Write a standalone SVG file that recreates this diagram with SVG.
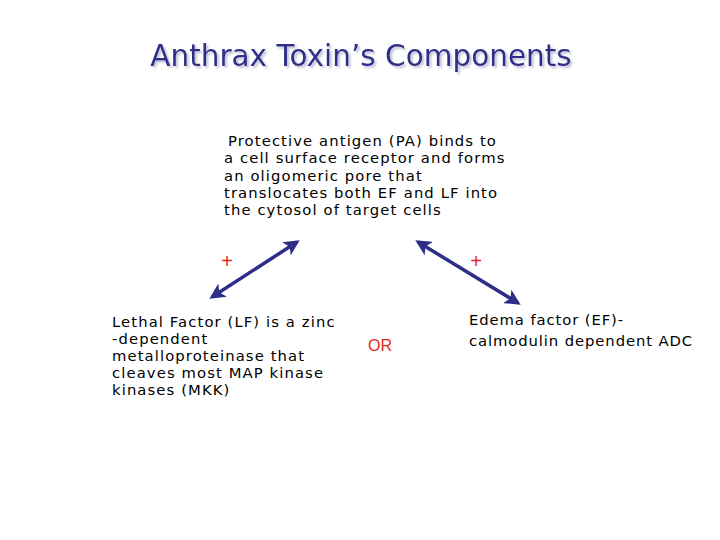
<svg xmlns="http://www.w3.org/2000/svg" width="720" height="540" viewBox="0 0 720 540">
<defs>
<style>
.title{font-family:"DejaVu Sans","Liberation Sans",sans-serif;font-size:29.5px;fill:#2e2e8a;filter:url(#sh)}
.body{font-family:"DejaVu Sans","Liberation Sans",sans-serif;font-size:14.8px;letter-spacing:1.1px;fill:#000}
.red{font-family:"Liberation Sans",Arial,sans-serif;fill:#e0281e}
.conn{stroke:#2e2e8a;stroke-width:3.5;fill:none;marker-start:url(#ah);marker-end:url(#ah)}
</style>
<filter id="sh" x="-5%" y="-20%" width="110%" height="150%">
<feDropShadow dx="2" dy="2" stdDeviation="0.8" flood-color="#b8b8d0" flood-opacity="0.9"/>
</filter>
<marker id="ah" viewBox="0 0 10 10" refX="8" refY="5" markerWidth="4.5" markerHeight="4.5" orient="auto-start-reverse" markerUnits="strokeWidth">
<path d="M0,0 L10,5 L0,10 L2.5,5 Z" fill="#2e2e8a"/>
</marker>
</defs>
<rect width="720" height="540" fill="#fff"/>
<g id="title">
<text class="title" x="361" y="66" text-anchor="middle">Anthrax Toxin’s Components</text>
</g>
<g id="pa">
<text class="body" x="228" y="146">Protective  antigen (PA) binds to</text>
<text class="body" x="224" y="163">a cell surface receptor and forms</text>
<text class="body" x="224" y="181">an oligomeric pore that</text>
<text class="body" x="224" y="198">translocates both EF and LF into</text>
<text class="body" x="224" y="215">the cytosol of target cells</text>
</g>
<g id="lf">
<text class="body" x="112" y="327">Lethal Factor (LF) is a zinc</text>
<text class="body" x="112" y="344">-dependent</text>
<text class="body" x="112" y="361">metalloproteinase that</text>
<text class="body" x="112" y="378">cleaves most MAP kinase</text>
<text class="body" x="112" y="395">kinases (MKK)</text>
</g>
<g id="ef">
<text class="body" x="469" y="325" style="letter-spacing:0.9px">Edema factor (EF)-</text>
<text class="body" x="469" y="346" style="letter-spacing:0.9px">calmodulin dependent ADC</text>
</g>
<g id="or">
<text class="red" x="380" y="351" font-size="16" text-anchor="middle">OR</text>
</g>
<g id="plus">
<text class="red" x="227" y="268" font-size="20" text-anchor="middle">+</text>
<text class="red" x="476" y="268" font-size="20" text-anchor="middle">+</text>
</g>
<g id="connectors">
<line class="conn" x1="297" y1="242" x2="212" y2="297"/>
<line class="conn" x1="418" y1="242" x2="518" y2="303"/>
</g>
</svg>
